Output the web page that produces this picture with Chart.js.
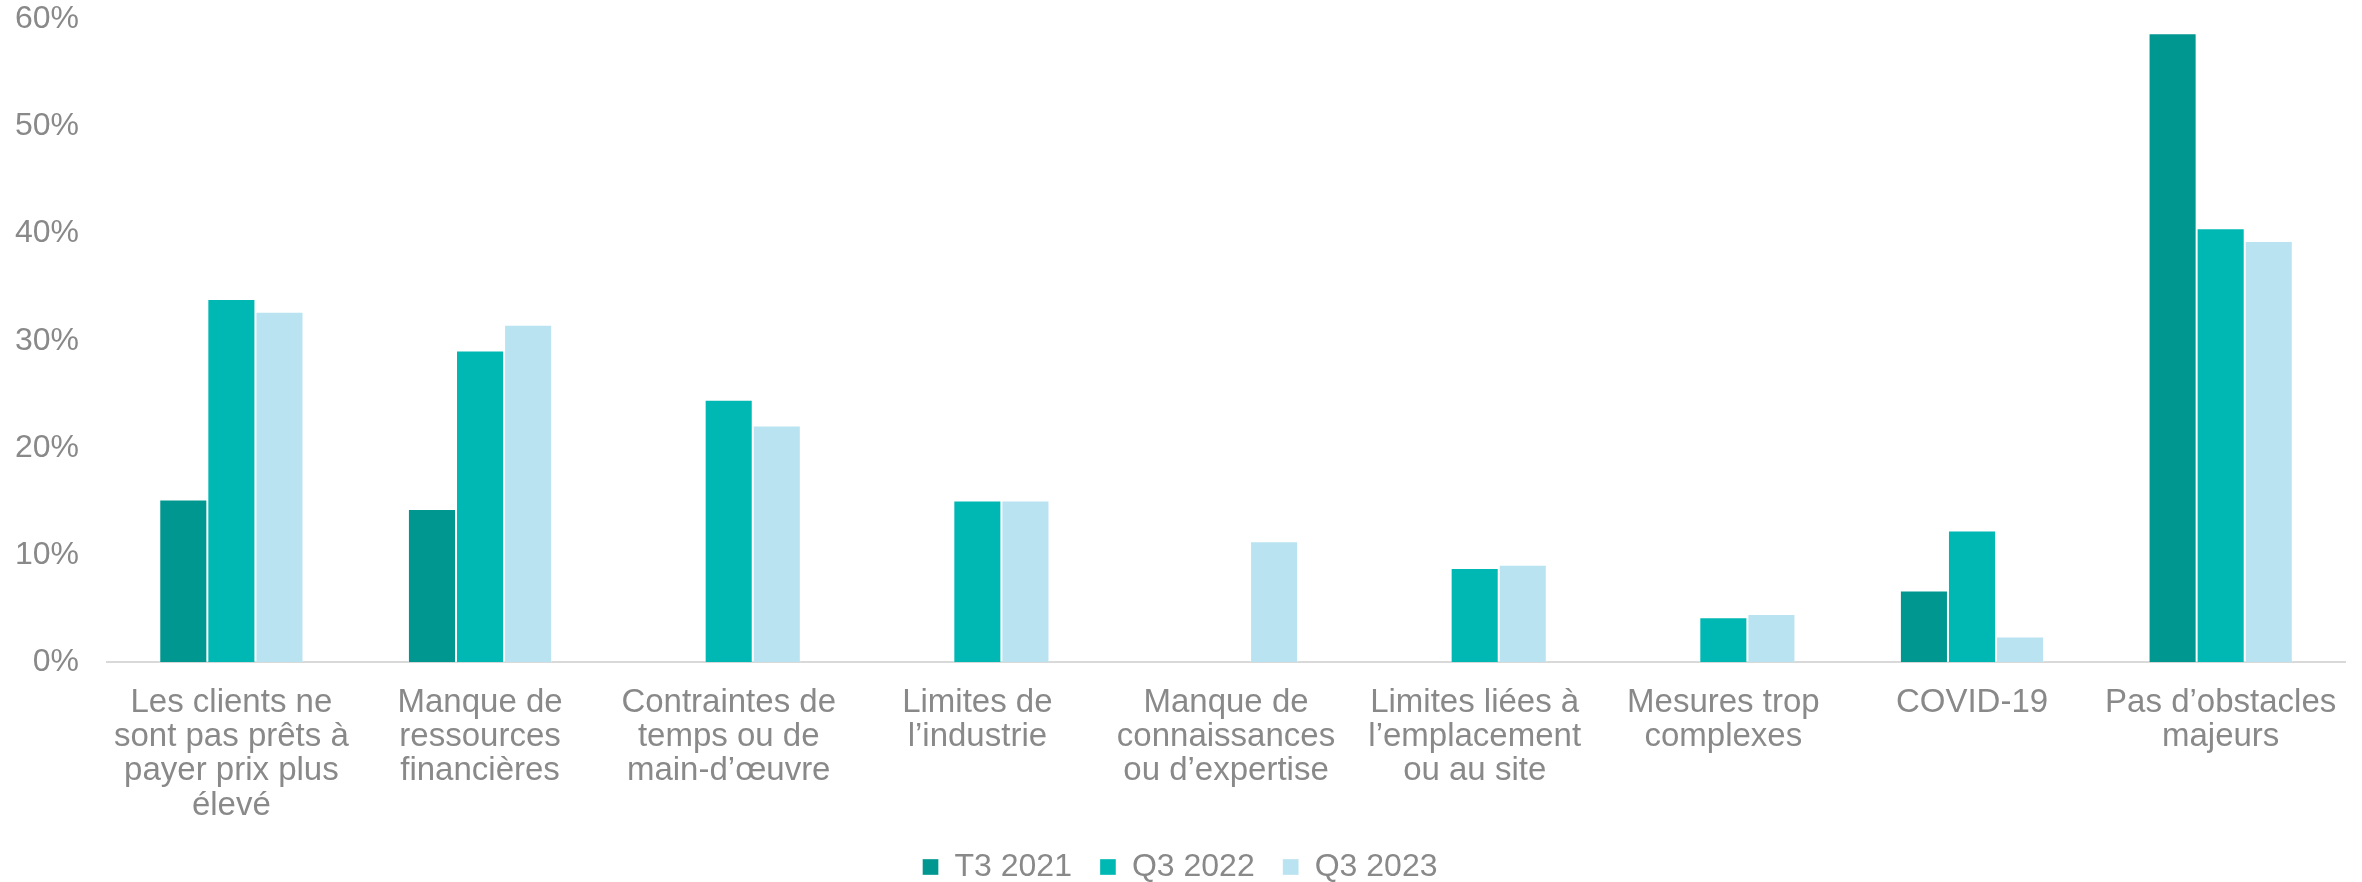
<!DOCTYPE html>
<html lang="fr">
<head>
<meta charset="utf-8">
<title>Obstacles</title>
<script src="https://cdn.jsdelivr.net/npm/chart.js@4/dist/chart.umd.min.js"></script>
<style>
    html, body { margin: 0; padding: 0; background: #fff; }
    #wrap { width: 2362px; height: 882px; position: relative; }
</style>
</head>
<body>
<div id="wrap"><canvas id="chartObstacles"></canvas></div>
<script>
const categories = [
    ['Les clients ne', 'sont pas prêts à', 'payer prix plus', 'élevé'],
    ['Manque de', 'ressources', 'financières'],
    ['Contraintes de', 'temps ou de', 'main-d’œuvre'],
    ['Limites de', 'l’industrie'],
    ['Manque de', 'connaissances', 'ou d’expertise'],
    ['Limites liées à', 'l’emplacement', 'ou au site'],
    ['Mesures trop', 'complexes'],
    ['COVID-19'],
    ['Pas d’obstacles', 'majeurs']
];

const seriesNames = ['T3 2021', 'Q3 2022', 'Q3 2023'];

// pourcentages (null = pas posé cette année-là)
const t3_2021 = [15.2, 14.3, null, null, null, null, null, 6.7, 58.7];
const q3_2022 = [33.9, 29.1, 24.5, 15.1, null, 8.8, 4.2, 12.3, 40.5];
const q3_2023 = [32.7, 31.5, 22.1, 15.1, 11.3, 9.1, 4.5, 2.4, 39.3];

const yTicks = [0, 10, 20, 30, 40, 50, 60];

const colors = ['#009790', '#00B8B3', '#B9E3F0'];
const textGray = '#898989';
const fontFamily = '"Liberation Sans", Arial, sans-serif';

function makeDataset(label, data, color) {
    return {
        label: label,
        data: data,
        backgroundColor: color,
        borderColor: 'rgba(255,255,255,0.35)',
        borderWidth: 1,
        categoryPercentage: 0.58,
        barPercentage: 1.0
    };
}

// Chart.js reserve le padding des ticks des deux côtés du libellé : on n'en garde qu'un
function trimTickPadding(axis) {
    const pad = axis.options.ticks.padding;
    if (axis.isHorizontal()) {
        axis.height -= pad;
    } else {
        axis.width -= pad;
        axis.paddingTop -= pad;
        axis.paddingBottom -= pad;
    }
}

const ctx = document.getElementById('chartObstacles').getContext('2d');
new Chart(ctx, {
    type: 'bar',
    data: {
        labels: categories,
        datasets: [
            makeDataset(seriesNames[0], t3_2021, colors[0]),
            makeDataset(seriesNames[1], q3_2022, colors[1]),
            makeDataset(seriesNames[2], q3_2023, colors[2])
        ]
    },
    options: {
        responsive: true,
        maintainAspectRatio: false,
        devicePixelRatio: 1,
        animation: false,
        layout: { padding: { left: 15, right: 17, top: 4, bottom: -11 } },
        plugins: {
            legend: {
                position: 'bottom',
                labels: {
                    color: textGray,
                    font: { family: fontFamily, size: 32 },
                    boxWidth: 16,
                    boxHeight: 16,
                    padding: 28
                }
            },
            tooltip: { enabled: false }
        },
        scales: {
            x: {
                afterFit: trimTickPadding,
                grid: { display: false, drawTicks: false },
                border: { display: true, color: '#d9d9d9', width: 2 },
                ticks: {
                    color: textGray,
                    font: { family: fontFamily, size: 33, lineHeight: 1.043 },
                    padding: 23,
                    maxRotation: 0,
                    autoSkip: false
                }
            },
            y: {
                min: yTicks[0],
                max: yTicks[yTicks.length - 1],
                afterBuildTicks: (axis) => { axis.ticks = yTicks.map(v => ({ value: v })); },
                afterFit: trimTickPadding,
                grid: { display: false, drawTicks: false },
                border: { display: false },
                ticks: {
                    color: textGray,
                    font: { family: fontFamily, size: 32 },
                    padding: 28,
                    callback: (v) => v + '%'
                }
            }
        }
    }
});
</script>
</body>
</html>
